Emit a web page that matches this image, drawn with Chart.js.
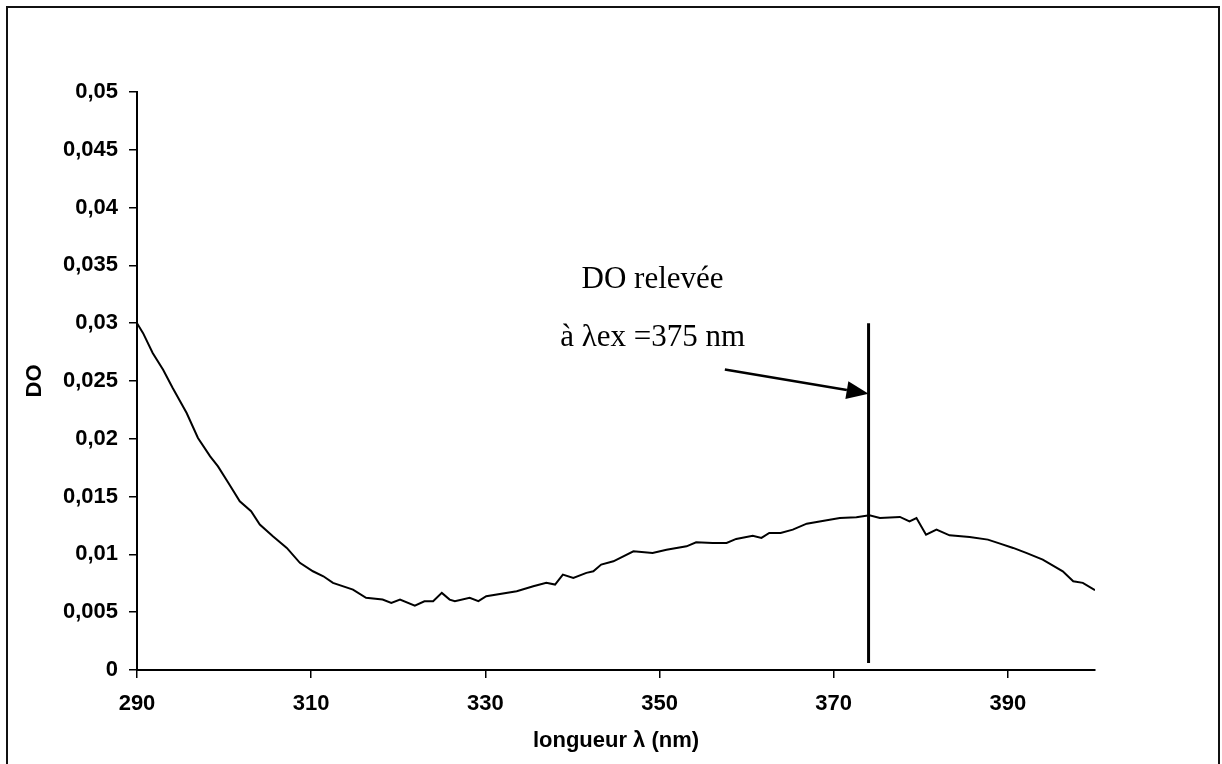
<!DOCTYPE html>
<html>
<head>
<meta charset="utf-8">
<script src="https://cdn.jsdelivr.net/npm/chart.js@4.4.1/dist/chart.umd.min.js"></script>
<style>
  html, body { margin: 0; padding: 0; background: #fff; }
  #wrap { width: 1222px; height: 764px; position: relative; }
</style>
</head>
<body>
<div id="wrap"><canvas id="chart"></canvas></div>
<script>
// Spectrum
const wavelength = [290.0, 290.7, 291.8, 293.0, 294.1, 295.7, 297.0, 298.4, 299.3, 300.5,
  301.8, 303.1, 304.1, 305.6, 307.2, 308.7, 310.2, 311.4, 312.5, 314.8,
  316.3, 318.2, 319.2, 320.2, 321.9, 323.0, 324.0, 325.0, 325.9, 326.5,
  328.2, 329.2, 330.1, 333.6, 335.5, 337.0, 338.0, 338.9, 340.1, 341.6,
  342.4, 343.3, 344.7, 347.0, 349.2, 350.8, 353.1, 354.2, 356.1, 357.7,
  358.8, 360.7, 361.7, 362.6, 363.9, 365.3, 366.9, 369.2, 370.7, 372.6,
  374.1, 375.3, 377.6, 378.7, 379.5, 380.6, 381.8, 383.3, 385.6, 387.7,
  389.1, 390.6, 392.1, 394.0, 396.3, 397.5, 398.6, 400.0];
const od = [0.0300, 0.02914, 0.02742, 0.02597, 0.02439, 0.02223, 0.02007, 0.01848, 0.01761, 0.01618,
  0.01459, 0.01373, 0.01258, 0.01156, 0.01056, 0.00927, 0.00854, 0.00811, 0.00754, 0.00696,
  0.00624, 0.00609, 0.00581, 0.00609, 0.00557, 0.00595, 0.00595, 0.00667, 0.00609, 0.00595,
  0.00624, 0.00595, 0.00638, 0.00681, 0.00724, 0.00754, 0.00739, 0.00825, 0.00797, 0.00840,
  0.00854, 0.00912, 0.00940, 0.01027, 0.01013, 0.01041, 0.01070, 0.01105, 0.01099, 0.01099,
  0.01134, 0.01162, 0.01143, 0.01186, 0.01186, 0.01214, 0.01266, 0.01295, 0.01315, 0.01321,
  0.01338, 0.01315, 0.01324, 0.01286, 0.01315, 0.01171, 0.01214, 0.01165, 0.01151, 0.01128,
  0.01093, 0.01056, 0.01013, 0.00955, 0.00854, 0.00768, 0.00754, 0.00690];

const xTicks = [290, 310, 330, 350, 370, 390];
const yTicks = [0, 0.005, 0.01, 0.015, 0.02, 0.025, 0.03, 0.035, 0.04, 0.045, 0.05];

// annotation: vertical marker, arrow and label (data coordinates)
const markerX = 374;
const markerY = [0.0006, 0.030];
const arrowFrom = [357.5, 0.0260];
const arrowTo = [374, 0.0239];
const noteLines = ["DO relevée", "à λex =375 nm"];
const noteX = 349.2;
const noteY = [0.03375, 0.02874];

const tickFont = { family: "Liberation Sans", size: 22, weight: "bold" };
const titleFont = { family: "Liberation Sans", size: 22, weight: "bold" };

const annotations = {
  id: "annotations",
  beforeDraw(chart) {
    const c = chart.ctx;
    c.save();
    c.strokeStyle = "#111";
    c.lineWidth = 2;
    c.beginPath();
    c.moveTo(7, 770);
    c.lineTo(7, 7);
    c.lineTo(1219, 7);
    c.lineTo(1219, 770);
    c.stroke();
    c.restore();
  },
  afterDatasetsDraw(chart) {
    const c = chart.ctx, x = chart.scales.x, y = chart.scales.y;
    c.save();
    c.strokeStyle = "#000";
    c.fillStyle = "#000";
    // vertical marker
    c.lineWidth = 3;
    c.beginPath();
    c.moveTo(x.getPixelForValue(markerX), y.getPixelForValue(markerY[0]));
    c.lineTo(x.getPixelForValue(markerX), y.getPixelForValue(markerY[1]));
    c.stroke();
    // arrow
    const x0 = x.getPixelForValue(arrowFrom[0]), y0 = y.getPixelForValue(arrowFrom[1]);
    const x1 = x.getPixelForValue(arrowTo[0]), y1 = y.getPixelForValue(arrowTo[1]);
    const ang = Math.atan2(y1 - y0, x1 - x0);
    const len = 22, half = 9;
    const bx = x1 - len * Math.cos(ang), by = y1 - len * Math.sin(ang);
    c.lineWidth = 2.5;
    c.beginPath();
    c.moveTo(x0, y0);
    c.lineTo(bx, by);
    c.stroke();
    c.beginPath();
    c.moveTo(x1, y1);
    c.lineTo(bx + half * Math.sin(ang), by - half * Math.cos(ang));
    c.lineTo(bx - half * Math.sin(ang), by + half * Math.cos(ang));
    c.closePath();
    c.fill();
    // label
    c.font = "31px 'Liberation Serif'";
    c.textAlign = "center";
    c.textBaseline = "middle";
    noteLines.forEach((t, i) => {
      c.fillText(t, x.getPixelForValue(noteX), y.getPixelForValue(noteY[i]));
    });
    c.restore();
  }
};

new Chart(document.getElementById("chart"), {
  type: "line",
  data: {
    datasets: [{
      data: wavelength.map((w, i) => ({ x: w, y: od[i] })),
      borderColor: "#000",
      borderWidth: 2,
      pointRadius: 0,
      tension: 0,
      fill: false
    }]
  },
  options: {
    responsive: true,
    maintainAspectRatio: false,
    animation: false,
    layout: { padding: { left: 18, top: 92, right: 127, bottom: 6 } },
    plugins: { legend: { display: false }, tooltip: { enabled: false } },
    scales: {
      x: {
        type: "linear",
        min: 290,
        max: 400,
        border: { color: "#000", width: 2 },
        grid: { drawOnChartArea: false, color: "#000", lineWidth: 1.5, tickLength: 8 },
        ticks: { font: tickFont, color: "#000", padding: 13, maxRotation: 0 },
        afterBuildTicks: s => { s.ticks = xTicks.map(v => ({ value: v })); },
        afterFit: s => { s.height = 88; },
        title: { display: true, text: "longueur λ (nm)", font: titleFont, color: "#000" }
      },
      y: {
        min: 0,
        max: 0.05,
        border: { color: "#000", width: 2 },
        grid: { drawOnChartArea: false, color: "#000", lineWidth: 1.5, tickLength: 8 },
        ticks: {
          font: tickFont, color: "#000", padding: 11,
          callback: v => String(v).replace(".", ",")
        },
        afterBuildTicks: s => { s.ticks = yTicks.map(v => ({ value: v })); },
        afterFit: s => { s.width = 119; },
        title: { display: true, text: "DO", font: titleFont, color: "#000" }
      }
    }
  },
  plugins: [annotations]
});
</script>
</body>
</html>
